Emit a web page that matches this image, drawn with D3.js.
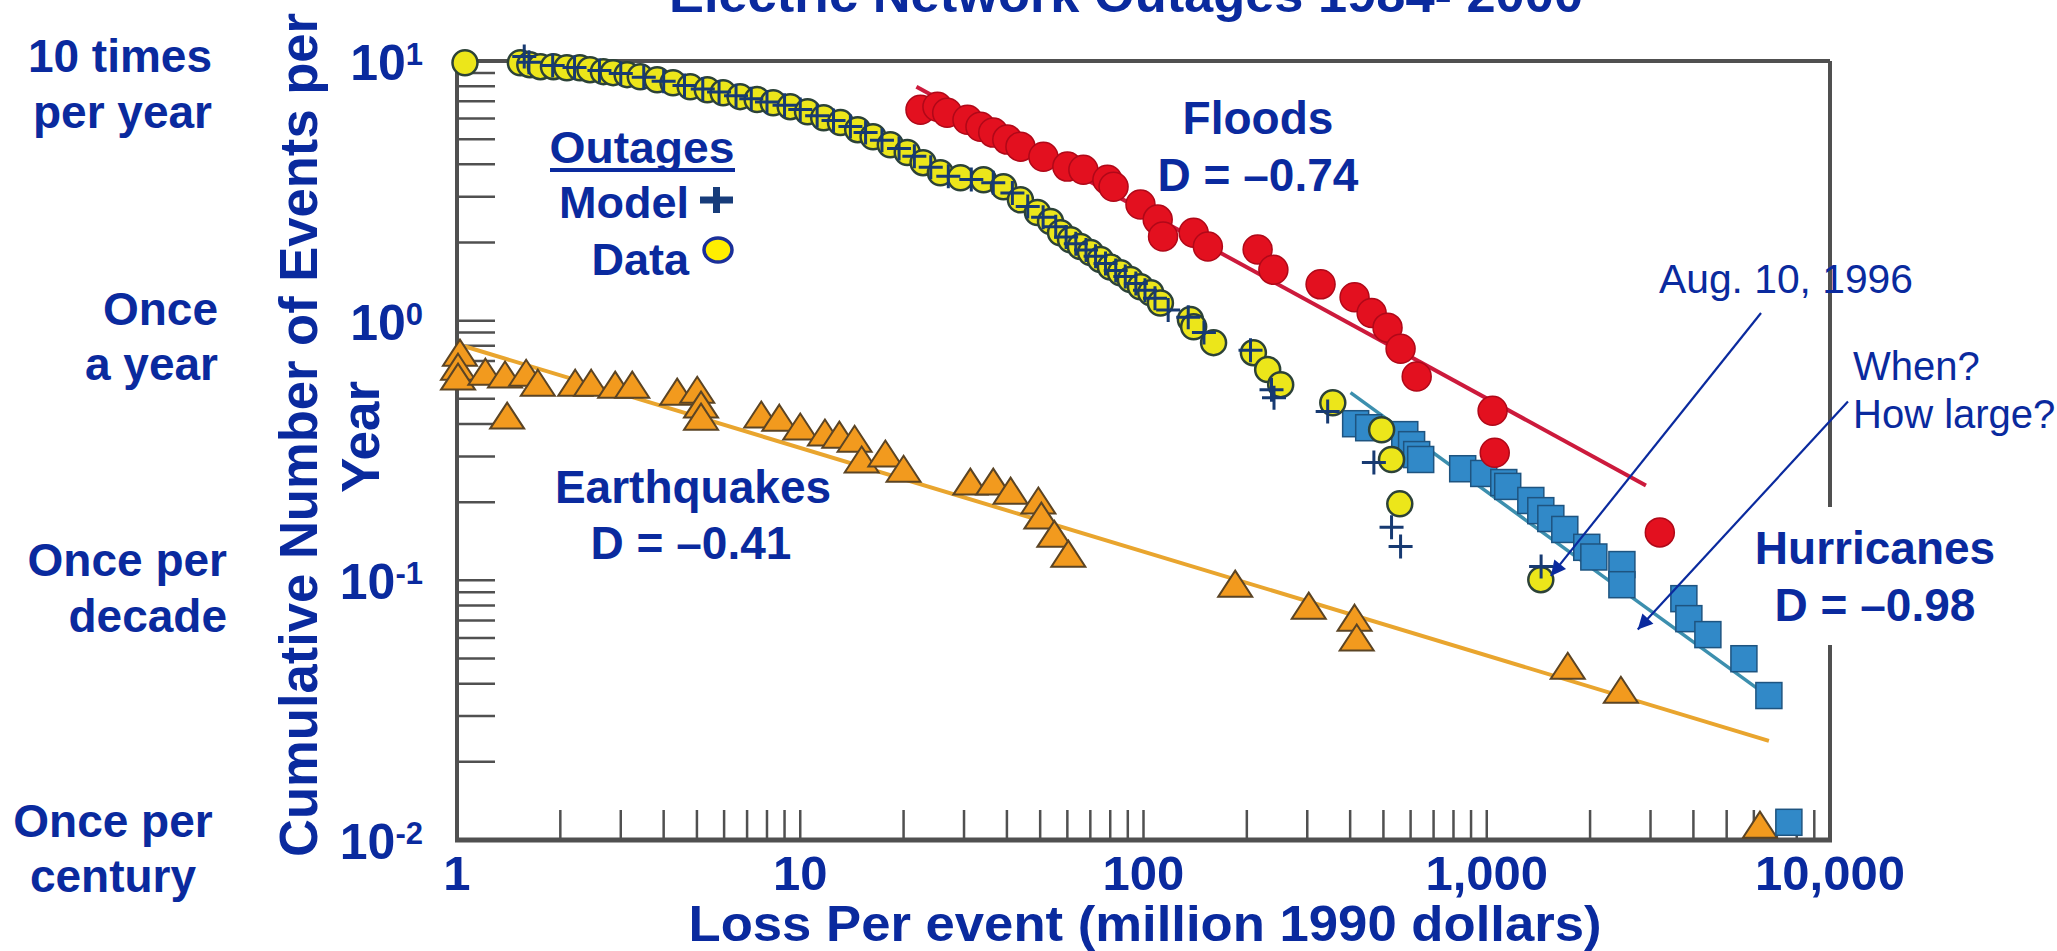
<!DOCTYPE html>
<html lang="en">
<head>
<meta charset="UTF-8">
<title>Electric Network Outages 1984- 2000</title>
<script src="https://d3js.org/d3.v7.min.js"></script>
<style>
  body { margin: 0; background: #fff; overflow: hidden; }
  text { font-family: "Liberation Sans", Arial, sans-serif; }
</style>
</head>
<body>
<svg class="chart"></svg>
<script>
// values (loss in million 1990 $, events per year)
const outageLoss = [1.055, 1.53, 1.63, 1.75, 1.91, 2.09, 2.28, 2.44, 2.67, 2.85, 3.13, 3.42, 3.83, 4.26, 4.78,
  5.36, 5.96, 6.68, 7.49, 8.34, 9.35, 10.5, 11.7, 13.1, 14.7, 16.3, 18.3, 20.5, 22.8, 25.6, 29.3, 34.2, 39.1,
  43.8, 49.1, 53.6, 57.3, 61.3, 65.5, 70.1, 74.9, 80.1, 85.7, 91.6, 98.0, 105, 112, 137, 140, 160, 209, 230,
  251, 356, 494, 528, 558, 1437];
const outageFreq = [9.85, 9.85, 9.68, 9.51, 9.51, 9.42, 9.42, 9.26, 9.10, 9.02, 8.86, 8.70, 8.47, 8.25, 7.96,
  7.75, 7.55, 7.29, 7.10, 6.91, 6.67, 6.38, 6.05, 5.79, 5.44, 5.11, 4.76, 4.44, 4.06, 3.71, 3.55, 3.49, 3.28,
  2.92, 2.61, 2.41, 2.18, 2.05, 1.93, 1.83, 1.72, 1.61, 1.53, 1.44, 1.35, 1.28, 1.17, 1.01, 0.948, 0.823, 0.753,
  0.648, 0.567, 0.483, 0.380, 0.292, 0.197, 0.1006];

const modelLoss = [1.57, 1.62, 1.9, 2.2, 2.6, 3.0, 3.5, 4.0, 4.6, 5.2, 5.8, 6.5, 7.2, 8.0, 9.0, 10.0, 11.2, 12.5,
  14.0, 15.5, 17.3, 19.4, 21.5, 24.0, 27.0, 31.5, 36.5, 41.5, 46.0, 51.0, 55.5, 59.5, 63.5, 68.0, 72.5, 77.5,
  83.0, 88.5, 95.0, 101, 108, 118, 135, 150, 205, 236, 240, 344, 469, 528, 561, 1440];
const modelFreq = [10.4, 9.9, 9.6, 9.45, 9.2, 8.95, 8.65, 8.35, 8.05, 7.8, 7.6, 7.35, 7.15, 6.95, 6.75, 6.5, 6.15,
  5.9, 5.6, 5.3, 4.95, 4.6, 4.3, 3.9, 3.6, 3.5, 3.4, 3.1, 2.75, 2.5, 2.3, 2.1, 1.98, 1.87, 1.77, 1.66, 1.56,
  1.48, 1.39, 1.31, 1.22, 1.1, 1.03, 0.9, 0.77, 0.542, 0.505, 0.447, 0.284, 0.16, 0.135, 0.113];

const floodLoss = [22.4, 25.1, 26.8, 30.7, 33.5, 36.5, 40.1, 43.8, 51.1, 60.0, 66.8, 78.5, 81.8, 98, 110, 114,
  140, 154, 215, 239, 328, 412, 462, 514, 561, 625, 1040, 1055, 3193];
const floodFreq = [6.49, 6.67, 6.32, 5.94, 5.58, 5.30, 4.98, 4.68, 4.28, 3.92, 3.81, 3.49, 3.28, 2.80, 2.45,
  2.11, 2.18, 1.93, 1.88, 1.57, 1.38, 1.23, 1.07, 0.94, 0.78, 0.61, 0.45, 0.31, 0.153];

const hurrLoss = [415, 453, 577, 604, 625, 642, 851, 980, 1121, 1151, 1344, 1437, 1537, 1688, 1956, 2051, 2476,
  2476, 3752, 3880, 4408, 5613, 6637, 7590];
const hurrFreq = [0.401, 0.387, 0.364, 0.333, 0.305, 0.292, 0.269, 0.258, 0.238, 0.23, 0.203, 0.1855, 0.173,
  0.157, 0.134, 0.123, 0.115, 0.0962, 0.085, 0.0712, 0.0618, 0.0499, 0.036, 0.0117];

const quakeLoss = [1.02, 1.007, 1.007, 1.21, 1.38, 1.59, 1.72, 1.40, 2.21, 2.46, 2.89, 3.24, 4.38, 5.01, 5.14,
  5.14, 7.70, 8.69, 10.0, 11.8, 13.0, 14.4, 15.1, 17.7, 20.0, 31.3, 36.5, 41.0, 49.4, 50.4, 55.0, 60.4, 185,
  303, 412, 418, 1722, 2459, 6250];
const quakeFreq = [0.753, 0.665, 0.609, 0.636, 0.62, 0.63, 0.577, 0.431, 0.577, 0.577, 0.567, 0.567, 0.533,
  0.542, 0.475, 0.427, 0.435, 0.423, 0.391, 0.371, 0.364, 0.351, 0.292, 0.308, 0.269, 0.240, 0.240, 0.2215,
  0.203, 0.1775, 0.151, 0.1267, 0.0971, 0.0799, 0.0718, 0.0602, 0.0469, 0.0379, 0.01146];

// fitted power-law lines (end points)
const floodFitLoss = [21.8, 2909], floodFitFreq = [7.96, 0.232];
const hurrFitLoss = [401, 6637], hurrFitFreq = [0.528, 0.0356];
const quakeFitLoss = [1.05, 6637], quakeFitFreq = [0.797, 0.0241];

// axis ticks
const yMajor = [0.01, 0.1, 1, 10];
const yMajorExp = ['-2', '-1', '0', '1'];
const xMajor = [1, 10, 100, 1000, 10000];
const xMajorLabels = ['1', '10', '100', '1,000', '10,000'];

// annotation arrows [loss, freq] from -> to
const augArrow = [[6295, 1.07], [1537, 0.104]];
const whenArrow = [[11280, 0.488], [2754, 0.0646]];

const blue = '#0a2a9e';
const W = 2057, H = 951;

const svg = d3.select('.chart').attr('width', W).attr('height', H);

const x = d3.scaleLog().domain([1, 10000]).range([457, 1830]);
const y = d3.scaleLog().domain([0.01, 10]).range([840, 61]);

svg.append('defs').append('marker')
  .attr('id', 'head')
  .attr('viewBox', '0 0 10 10')
  .attr('refX', 10).attr('refY', 5)
  .attr('markerUnits', 'userSpaceOnUse')
  .attr('markerWidth', 24).attr('markerHeight', 15)
  .attr('orient', 'auto')
  .append('path').attr('d', 'M0,0L10,5L0,10z').attr('fill', blue);

function label(txt, px, py, size, anchor, weight, len) {
  const t = svg.append('text')
    .attr('x', px).attr('y', py)
    .attr('font-size', size)
    .attr('font-weight', weight || 'bold')
    .attr('text-anchor', anchor || 'start')
    .attr('fill', blue)
    .text(txt);
  if (len) t.attr('textLength', len).attr('lengthAdjust', 'spacingAndGlyphs');
  return t;
}

// ---- frame + ticks ----
const frame = svg.append('g').attr('stroke', '#505050');
frame.append('line').attr('x1', x(1)).attr('x2', x(10000)).attr('y1', y(10)).attr('y2', y(10)).attr('stroke-width', 4);
frame.append('line').attr('x1', x(10000)).attr('x2', x(10000)).attr('y1', y(10)).attr('y2', y(0.01)).attr('stroke-width', 4);

const yt = y.ticks().filter(d => d > 0.0101 && d < 9.9);
frame.selectAll('.yt').data(yt).enter().append('line')
  .attr('x1', x(1)).attr('x2', x(1) + 38)
  .attr('y1', d => y(d)).attr('y2', d => y(d))
  .attr('stroke-width', 2.5);

const xt = x.ticks().filter(d => d > 1.01 && d < 9900);
frame.selectAll('.xt').data(xt).enter().append('line')
  .attr('x1', d => x(d)).attr('x2', d => x(d))
  .attr('y1', y(0.01)).attr('y2', y(0.01) - 30)
  .attr('stroke-width', 2.5);

frame.append('line').attr('x1', x(1)).attr('x2', x(1)).attr('y1', y(10) - 2).attr('y2', y(0.01) + 2).attr('stroke-width', 4);
frame.append('line').attr('x1', x(1) - 2).attr('x2', x(10000) + 2).attr('y1', y(0.01)).attr('y2', y(0.01)).attr('stroke-width', 5);

// white box behind the hurricane label cuts the right border
svg.append('rect').attr('x', 1742).attr('y', 507).attr('width', 300).attr('height', 138).attr('fill', '#fff');

// ---- fit lines ----
const line = d3.line().x(d => x(d[0])).y(d => y(d[1]));
const fits = [
  [d3.zip(quakeFitLoss, quakeFitFreq), '#e9a52e', 4],
  [d3.zip(hurrFitLoss, hurrFitFreq), '#3c8fae', 3.5],
  [d3.zip(floodFitLoss, floodFitFreq), '#cc1a3c', 4]
];
fits.forEach(f => {
  svg.append('path').attr('d', line(f[0])).attr('fill', 'none')
    .attr('stroke', f[1]).attr('stroke-width', f[2]);
});

// ---- markers ----
svg.append('g').selectAll('path')
  .data(d3.zip(quakeLoss, quakeFreq)).enter().append('path')
  .attr('d', 'M0,-13L17,13L-17,13Z')
  .attr('transform', d => `translate(${x(d[0])},${y(d[1])})`)
  .attr('fill', '#f29a1e').attr('stroke', '#5b4424').attr('stroke-width', 2);

svg.append('g').selectAll('rect')
  .data(d3.zip(hurrLoss, hurrFreq)).enter().append('rect')
  .attr('x', d => x(d[0]) - 13).attr('y', d => y(d[1]) - 13)
  .attr('width', 26).attr('height', 26)
  .attr('fill', '#3189c8').attr('stroke', '#1e5480').attr('stroke-width', 1.5);

svg.append('g').selectAll('circle')
  .data(d3.zip(floodLoss, floodFreq)).enter().append('circle')
  .attr('cx', d => x(d[0])).attr('cy', d => y(d[1])).attr('r', 14.5)
  .attr('fill', '#e3101f').attr('stroke', '#b00818').attr('stroke-width', 1.5);

svg.append('g').selectAll('circle')
  .data(d3.zip(outageLoss, outageFreq)).enter().append('circle')
  .attr('cx', d => x(d[0])).attr('cy', d => y(d[1])).attr('r', 12.5)
  .attr('fill', '#ece61a').attr('stroke', '#2c4238').attr('stroke-width', 2.5);

svg.append('g').selectAll('path')
  .data(d3.zip(modelLoss, modelFreq)).enter().append('path')
  .attr('d', 'M-12,0H12M0,-12V12')
  .attr('transform', d => `translate(${x(d[0])},${y(d[1])})`)
  .attr('stroke', '#173a72').attr('stroke-width', 3).attr('fill', 'none');

// ---- axis labels ----
yMajor.forEach((v, i) => {
  const t = svg.append('text')
    .attr('x', 423).attr('y', y(v) + 19)
    .attr('text-anchor', 'end')
    .attr('font-weight', 'bold').attr('fill', blue);
  t.append('tspan').attr('font-size', 50).text('10');
  t.append('tspan').attr('font-size', 31).attr('dy', -15).text(yMajorExp[i]);
});

xMajor.forEach((v, i) => {
  label(xMajorLabels[i], x(v), 890, 49, 'middle');
});

label('Loss Per event (million 1990 dollars)', 1145, 941, 50, 'middle', 'bold', 913);
label('Electric Network Outages 1984- 2000', 669, 12, 50, 'start', 'bold', 914);

svg.append('text')
  .attr('transform', 'translate(317,435) rotate(-90)')
  .attr('text-anchor', 'middle').attr('font-size', 53).attr('font-weight', 'bold')
  .attr('fill', blue).attr('textLength', 844).attr('lengthAdjust', 'spacingAndGlyphs')
  .text('Cumulative Number of Events per');
svg.append('text')
  .attr('transform', 'translate(379,437) rotate(-90)')
  .attr('text-anchor', 'middle').attr('font-size', 53).attr('font-weight', 'bold')
  .attr('fill', blue).text('Year');

// frequency words on the far left
label('10 times', 212, 72, 46, 'end');
label('per year', 212, 128, 46, 'end');
label('Once', 218, 325, 46, 'end');
label('a year', 218, 380, 46, 'end');
label('Once per', 227, 576, 46, 'end');
label('decade', 227, 632, 46, 'end');
label('Once per', 113, 837, 46, 'middle');
label('century', 113, 892, 46, 'middle');

// ---- legend ----
label('Outages', 642, 163, 45, 'middle', 'bold', 185);
svg.append('line').attr('x1', 550).attr('x2', 735).attr('y1', 170).attr('y2', 170)
  .attr('stroke', blue).attr('stroke-width', 4);
label('Model', 689, 218, 45, 'end');
label('Data', 689, 275, 45, 'end');
svg.append('path').attr('d', 'M700,200H733M716.5,187V213')
  .attr('stroke', '#173c7a').attr('stroke-width', 7).attr('fill', 'none');
svg.append('ellipse').attr('cx', 718).attr('cy', 250).attr('rx', 14).attr('ry', 12)
  .attr('fill', '#ffee00').attr('stroke', '#1a2f9a').attr('stroke-width', 3.5);

// ---- series names ----
label('Floods', 1258, 134, 46, 'middle');
label('D = \u20130.74', 1258, 191, 46, 'middle');
label('Earthquakes', 693, 503, 46, 'middle');
label('D = \u20130.41', 691, 559, 46, 'middle');
label('Hurricanes', 1875, 564, 46, 'middle');
label('D = \u20130.98', 1875, 621, 46, 'middle');

// ---- annotations ----
label('Aug. 10, 1996', 1659, 293, 41, 'start', 'normal', 254);
label('When?', 1853, 380, 40, 'start', 'normal');
label('How large?', 1853, 428, 40, 'start', 'normal');

[augArrow, whenArrow].forEach(a => {
  svg.append('line')
    .attr('x1', x(a[0][0])).attr('y1', y(a[0][1]))
    .attr('x2', x(a[1][0])).attr('y2', y(a[1][1]))
    .attr('stroke', blue).attr('stroke-width', 2.2)
    .attr('marker-end', 'url(#head)');
});
</script>
</body>
</html>
